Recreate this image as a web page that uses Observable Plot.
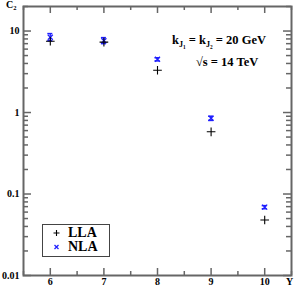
<!DOCTYPE html>
<html><head><meta charset="utf-8">
<script src="https://cdn.jsdelivr.net/npm/d3@7"></script>
<script src="https://cdn.jsdelivr.net/npm/@observablehq/plot@0.6"></script>
<style>
body{margin:0;background:#fff;}
#wrap{position:relative;width:296px;height:287px;font-family:"Liberation Serif","DejaVu Serif",serif;font-weight:bold;}
.ov{position:absolute;white-space:nowrap;color:#000;}
sub{font-size:65%;vertical-align:-0.35em;line-height:0;}
#legend{position:absolute;left:42px;top:224px;width:66px;height:31px;border:1.3px solid #444;background:#fff;}
</style>
</head><body>
<div id="wrap"></div>
<script>
const years = [6, 7, 8, 9, 10];
const lla = [7.5, 7.3, 3.3, 0.58, 0.048];
const nla = [8.4, 7.6, 4.5, 0.85, 0.069];
const nlaLo = [7.6, 7.0, 4.3, 0.80, 0.066];
const nlaHi = [9.3, 8.3, 4.7, 0.90, 0.072];
const xMajor = [6, 7, 8, 9, 10];
const xMinor = [5.5, 6.5, 7.5, 8.5, 9.5, 10.5];
const yMajor = [0.01, 0.1, 1, 10];
const yLabels = ["0.01", "0.1", "1", "10"];
const yMinor = [];
for (const dec of [0.01, 0.1, 1, 10]) for (let k = 2; k <= 9; k++) if (dec * k <= 20) yMinor.push(dec * k);

const W = 296, H = 287, mL = 23, mR = 5, mT = 6, mB = 12;
const iw = W - mL - mR, ih = H - mT - mB;
const blue = "#2020ff";
const grey = "#666";
const font = "Liberation Serif";

const llaData = years.map((Y, i) => ({Y, v: lla[i]}));
const nlaData = years.map((Y, i) => ({Y, v: nla[i], lo: nlaLo[i], hi: nlaHi[i]}));

const chart = Plot.plot({
  width: W, height: H,
  marginLeft: mL, marginRight: mR, marginTop: mT, marginBottom: mB,
  x: {domain: [5.5, 10.5], axis: null},
  y: {type: "log", domain: [0.01, 20], axis: null},
  style: {fontFamily: font, fontWeight: "bold", background: "#fff"},
  marks: [
    Plot.tickX(xMajor, {x: d => d, stroke: grey, strokeWidth: 1.5, insetTop: ih - 7}),
    Plot.tickX(xMinor, {x: d => d, stroke: grey, strokeWidth: 1.5, insetTop: ih - 4}),
    Plot.tickX(xMajor, {x: d => d, stroke: grey, strokeWidth: 1.5, insetBottom: ih - 7}),
    Plot.tickX(xMinor, {x: d => d, stroke: grey, strokeWidth: 1.5, insetBottom: ih - 4}),
    Plot.tickY(yMajor, {y: d => d, stroke: grey, strokeWidth: 1.5, insetRight: iw - 8}),
    Plot.tickY(yMinor, {y: d => d, stroke: grey, strokeWidth: 1.5, insetRight: iw - 5}),
    Plot.tickY(yMajor, {y: d => d, stroke: grey, strokeWidth: 1.5, insetLeft: iw - 8}),
    Plot.tickY(yMinor, {y: d => d, stroke: grey, strokeWidth: 1.5, insetLeft: iw - 5}),
    Plot.frame({stroke: grey, strokeWidth: 2}),
    Plot.text(xMajor, {x: d => d, frameAnchor: "bottom", dy: 9, text: d => String(d), fontSize: 10, fill: "#000"}),
    Plot.text(yMajor, {y: d => d, frameAnchor: "left", dx: -4, textAnchor: "end", text: (d, i) => yLabels[i], fontSize: 10, fill: "#000"}),
    Plot.ruleX(nlaData, {x: "Y", y1: "lo", y2: "hi", stroke: blue, strokeWidth: 1.2}),
    Plot.ruleY(nlaData, {y: "lo", x1: "Y", x2: "Y", insetLeft: -2.5, insetRight: -2.5, stroke: blue, strokeWidth: 1.5}),
    Plot.ruleY(nlaData, {y: "hi", x1: "Y", x2: "Y", insetLeft: -2.5, insetRight: -2.5, stroke: blue, strokeWidth: 1.5}),
    Plot.dot(nlaData, {x: "Y", y: "v", symbol: "times", r: 2.4, stroke: blue, strokeWidth: 1.3}),
    Plot.dot(llaData, {x: "Y", y: "v", symbol: "plus", r: 2.9, stroke: "#000", strokeWidth: 1.1})
  ]
});

const wrap = document.getElementById("wrap");
wrap.appendChild(chart);
chart.style.position = "absolute"; chart.style.left = "0"; chart.style.top = "0";

function ov(html, left, top, size) {
  const d = document.createElement("div");
  d.className = "ov"; d.innerHTML = html;
  d.style.left = left + "px"; d.style.top = top + "px"; d.style.fontSize = size + "px";
  wrap.appendChild(d); return d;
}
ov("C<sub>2</sub>", 6, -1, 10);
ov("Y", 286, 276, 10);
ov("k<sub>J<sub>1</sub></sub> = k<sub>J<sub>2</sub></sub> = 20 GeV", 172, 33, 12.5);
ov("√s = 14 TeV", 196, 55, 12.5);

const lg = document.createElement("div");
lg.id = "legend";
lg.innerHTML = `<svg width="66" height="31" style="position:absolute;left:0;top:0">
<path d="M10.5,8 h6 M13.5,5 v6" stroke="#000" stroke-width="1.1"/>
<path d="M11.5,20 l4,4 M15.5,20 l-4,4" stroke="${blue}" stroke-width="1.3"/>
</svg>
<div class="ov" style="left:25px;top:0px;font-size:14px;">LLA</div>
<div class="ov" style="left:25px;top:14px;font-size:14px;">NLA</div>`;
wrap.appendChild(lg);
</script>
</body></html>
